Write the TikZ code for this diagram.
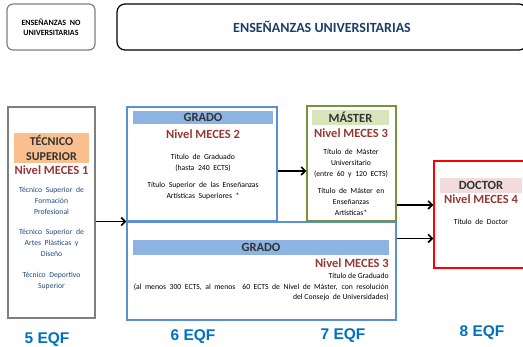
\documentclass[tikz,border=0pt]{standalone}
\usepackage{fontspec}
\setmainfont{Carlito}
\newfontfamily\eqffont{Liberation Sans}
\usetikzlibrary{arrows.meta}
\definecolor{boxgray}{HTML}{7F7F7F}
\definecolor{gradoblue}{HTML}{5B8FD6}
\definecolor{gradofill}{HTML}{8DB3E2}
\definecolor{masgreen}{HTML}{77933C}
\definecolor{masfill}{HTML}{D7E4BC}
\definecolor{tecfill}{HTML}{FABF8F}
\definecolor{docfill}{HTML}{F2DCDB}
\definecolor{nivred}{HTML}{953735}
\definecolor{navy}{HTML}{1F497D}
\definecolor{eqfblue}{HTML}{0070C0}
\newcommand{\widesp}{\spaceskip=3.6pt plus 1pt\relax}

\begin{document}
\begin{tikzpicture}[x=1pt,y=-1pt,
   box/.style={draw,line width=1.2pt,inner sep=0pt},
   head/.style={inner sep=0pt,text=black!80,font=\bfseries\fontsize{12.5}{14}\selectfont},
   nivel/.style={inner sep=0pt,text=nivred,font=\bfseries\fontsize{12.5}{14}\selectfont},
   small/.style={inner sep=0pt,align=center,font=\fontsize{7.7}{11}\selectfont\widesp},
   eqf/.style={inner sep=0pt,text=eqfblue,font=\eqffont\bfseries\fontsize{15.5}{17}\selectfont},
   arr/.style={line width=1.7pt,-{Straight Barb[length=4pt,width=8pt]}}]
   \clip (0,0) rectangle (523,347);
 % top boxes
   \node[box,draw=boxgray,rounded corners=6pt,minimum width=88pt,minimum height=46pt,
         align=center,font=\bfseries\fontsize{8}{10}\selectfont] (noUni) at ( 51, 27)
         {ENSEÑANZAS \ NO\\UNIVERSITARIAS};
   \node[box,rounded corners=8pt,minimum width=410pt,minimum height=46pt,text=navy!85!black,
         font=\bfseries\fontsize{14}{16}\selectfont] (uni) at (322, 27) {ENSEÑANZAS UNIVERSITARIAS};
 % tecnico superior
   \node[box,draw=boxgray,minimum width=87pt,minimum height=211pt] (tec) at ( 51.5,212.5) {};
   \node[head,fill=tecfill,minimum width=75pt,minimum height=30pt,align=center,
         font=\bfseries\fontsize{12}{15}\selectfont] (tecHead) at ( 51.5,148) {TÉCNICO\\SUPERIOR};
   \node[nivel] (tecNivel) at ( 51.5,170) {Nivel MECES 1};
   \node[small,text=navy] (tecA) at ( 51.5,201) {Técnico Superior de\\Formación\\Profesional};
   \node[small,text=navy] (tecB) at ( 51.5,243) {Técnico Superior de\\Artes Plásticas y\\Diseño};
   \node[small,text=navy] (tecC) at ( 51.5,281) {Técnico Deportivo\\Superior};
 % grado (240 ECTS)
   \node[box,draw=gradoblue,minimum width=150pt,minimum height=114pt] (grado) at (202,164) {};
   \node[head,fill=gradofill,minimum width=140pt,minimum height=13pt] (gradoHead) at (203,117.5) {GRADO};
   \node[nivel] (gradoNivel) at (203,134) {Nivel MECES 2};
   \node[small] (gradoA) at (203,162.5) {Título de Graduado\\(hasta 240 ECTS)};
   \node[small] (gradoB) at (203,191) {Título Superior de las Enseñanzas\\Artísticas Superiores *};
 % grado (300 ECTS)
   \node[box,draw=gradoblue,minimum width=269pt,minimum height=98pt] (gradoL) at (261.5,271) {};
   \node[head,fill=gradofill,minimum width=256pt,minimum height=15pt] (gradoLHead) at (261,247.5) {GRADO};
   \node[nivel,anchor=east] (gradoLNivel) at (389,263) {Nivel MECES 3};
   \node[small,align=right,anchor=east,font=\fontsize{7.7}{10.5}\selectfont] (gradoLTxt) at (389,287)
         {Título de Graduado\\\makebox[255pt][s]{(al menos 300 ECTS, al menos \ 60 ECTS de Nivel de Máster, con resolución}\\del Consejo \ de Universidades)};
 % master
   \node[box,draw=masgreen,minimum width=89pt,minimum height=115pt] (master) at (351.5,163.5) {};
   \node[head,fill=masfill,minimum width=77pt,minimum height=15pt] (masterHead) at (350.5,117.5) {MÁSTER};
   \node[nivel] (masterNivel) at (351,133) {Nivel MECES 3};
   \node[small] (masterA) at (351,163) {Título de Máster\\Universitario\\(entre 60 y 120 ECTS)};
   \node[small] (masterB) at (351,201.5) {Título de Máster en\\Enseñanzas\\Artísticas*};
 % doctor
   \node[box,draw=red,minimum width=94pt,minimum height=107pt] (doctor) at (481,214.5) {};
   \node[head,fill=docfill,minimum width=82pt,minimum height=15pt] (doctorHead) at (481,185.5) {DOCTOR};
   \node[nivel] (doctorNivel) at (481,199) {Nivel MECES 4};
   \node[small] (doctorTxt) at (481,222) {Título de Doctor};
 % arrows
   \draw[arr] (tec.east |- grado.south) -- (grado.south west);
   \draw[arr] ([yshift=-7pt]grado.east) -- ([yshift=-7pt]grado.east -| master.west);
   \draw[arr] ([yshift=-41.5pt]master.east) -- ([yshift=-41.5pt]master.east -| doctor.west);
   \draw[arr] ([yshift=32.5pt]gradoL.east) -- ([yshift=32.5pt]gradoL.east -| doctor.west);
 % EQF levels
   \node[eqf] (eqf5) at ( 47,340) {5 EQF};
   \node[eqf] (eqf6) at (193,337) {6 EQF};
   \node[eqf] (eqf7) at (343,336) {7 EQF};
   \node[eqf] (eqf8) at (482,333) {8 EQF};
\end{tikzpicture}
\end{document}
